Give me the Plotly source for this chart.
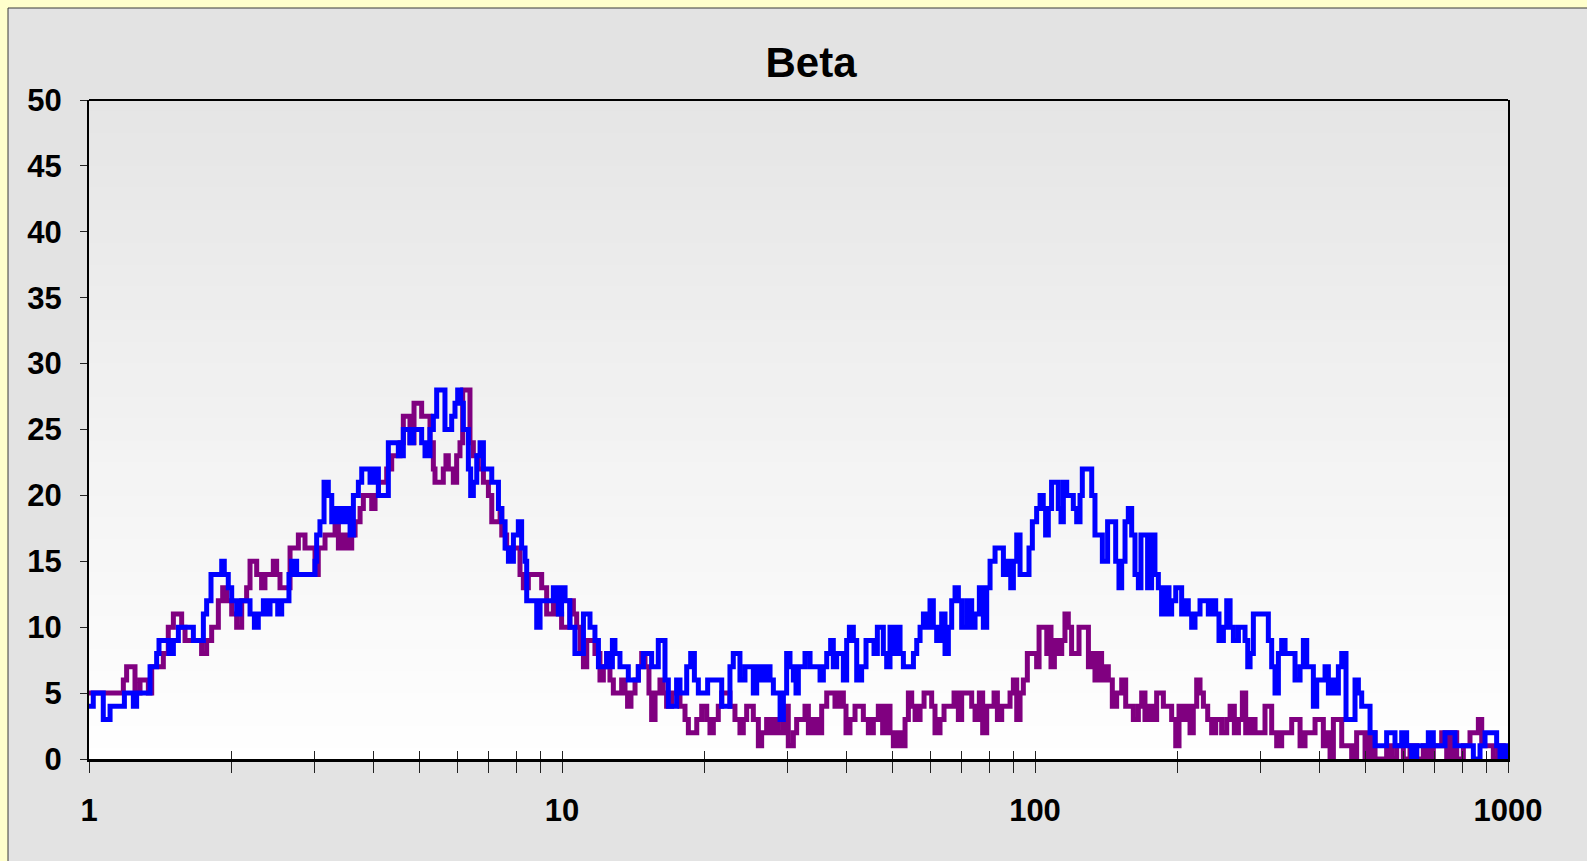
import plotly.graph_objects as go

# blue series
blue_x = [1.000, 1.021, 1.072, 1.108, 1.163, 1.188, 1.221, 1.241, 1.261, 1.303, 1.346, 1.390, 1.406, 1.447, 1.476, 1.508,
          1.545, 1.635, 1.662, 1.717, 1.745, 1.773, 1.811, 1.862, 1.908, 1.932, 1.970, 2.003, 2.052, 2.086, 2.154, 2.190,
          2.237, 2.280, 2.337, 2.366, 2.414, 2.473, 2.506, 2.555, 2.617, 2.647, 2.682, 2.748, 2.957, 3.005, 3.029, 3.078,
          3.140, 3.206, 3.260, 3.340, 3.422, 3.478, 3.564, 3.622, 3.711, 3.772, 3.864, 3.928, 4.005, 4.091, 4.226, 4.294,
          4.436, 4.508, 4.619, 4.771, 4.850, 4.970, 5.050, 5.133, 5.259, 5.346, 5.433, 5.567, 5.657, 5.750, 5.845, 5.940,
          6.018, 6.107, 6.186, 6.339, 6.411, 6.495, 6.603, 6.711, 6.821, 6.989, 7.104, 7.220, 7.339, 7.458, 7.580, 7.704,
          7.894, 8.085, 8.216, 8.353, 8.421, 8.629, 8.842, 8.987, 9.281, 9.433, 9.587,
          9.666, 9.822, 9.98, 10.15, 10.39, 10.65, 10.92, 11.10, 11.28, 11.46, 11.74, 11.94, 12.23, 12.43, 12.63, 12.78,
          12.94, 13.26, 13.59, 13.81, 14.27, 14.50, 14.86, 15.22, 15.47, 15.73, 15.98, 16.24, 16.51, 16.78, 17.19, 17.47,
          17.76, 18.05, 18.35, 18.71, 19.05, 19.42, 19.90, 20.32, 20.89, 21.40, 21.76, 22.29, 22.65, 23.02, 23.51, 23.78,
          24.37, 24.97, 25.38, 25.80, 26.43, 27.08, 27.53, 27.98, 28.44, 28.91, 29.38, 29.85, 30.34,
          30.84, 31.24, 31.60, 32.12, 32.64, 33.45, 34.27, 35.12, 35.69, 36.28, 36.98, 37.46, 38.08, 38.70, 39.34, 39.98,
          40.51, 41.30, 41.98, 43.00, 43.93, 44.79, 45.67, 46.42, 47.02, 47.79, 48.58, 49.37, 50.18, 51.00, 51.84, 52.69,
          53.99, 55.33, 56.23, 57.15, 58.09, 59.04, 59.98, 60.96, 61.96, 63.49, 64.53, 65.59, 66.66, 67.76, 68.86, 69.98,
          71.72, 73.48, 74.69, 76.27, 77.77, 79.05, 80.35, 82.33, 84.36, 85.74, 87.85, 88.86, 90.01, 91.49, 92.98,
          95.26, 97.12, 98.72, 100.8, 102.5, 104.1, 105.3, 106.7, 108.4, 110.2, 112.0, 113.5, 114.8, 116.7, 118.6, 120.5,
          122.5, 124.5, 125.9, 129.7, 131.8, 133.9, 137.2, 138.8, 140.6, 142.4, 145.7, 148.1, 150.5, 152.5, 155.0, 157.5,
          160.1, 162.7, 165.4, 167.5, 170.8, 173.0, 176.4, 179.3, 182.3, 185.2, 188.3, 192.0, 194.5, 198.4, 201.6, 204.2,
          207.6, 210.9, 214.4, 217.9, 223.3, 228.8, 232.5, 237.1, 241.0, 244.9, 250.2, 254.3, 258.5, 262.7, 269.2, 273.6,
          278.0, 281.7, 284.9, 289.5, 296.7,
          306.4, 311.4, 316.5, 321.7, 327.0, 332.3, 337.8, 348.9, 354.6, 363.4, 369.3, 375.4, 381.5, 387.7, 394.1, 403.8,
          410.4, 417.1, 423.9, 433.0, 437.9, 445.1, 454.5, 463.5, 474.9, 482.7, 490.6, 502.7, 510.9, 523.5, 536.4, 553.9,
          567.5, 576.9, 596.0, 610.6, 625.7, 641.1, 662.2, 678.5, 695.2, 712.4, 735.9, 754.1, 772.6, 791.6, 817.8, 844.8,
          872.7, 894.2, 923.7, 946.2, 962.0, 970.0, 977.5, 985.0, 992.0, 1000.0]
blue_y = [4, 5, 3, 4, 4, 5, 5, 4, 5, 5, 7, 8, 9, 9, 8, 9,
          10, 10, 9, 9, 11, 12, 14, 14, 15, 14, 13, 12, 11, 12, 12, 11,
          10, 11, 12, 11, 12, 12, 11, 12, 12, 14, 15, 14, 14, 15, 17, 18,
          21, 20, 18, 19, 18, 19, 17, 20, 21, 22, 22, 21, 22, 20, 20, 24,
          24, 23, 25, 24, 25, 25, 24, 23, 25, 26, 28, 28, 25, 25, 26, 27,
          28, 27, 25, 22, 20, 21, 23, 24, 22, 22, 21, 21, 19, 18, 16, 15,
          17, 18, 16, 15, 12, 12, 10, 12, 12, 12, 13,
          13, 11, 13, 12, 10, 8, 8, 11, 11, 10, 9, 7, 7, 8, 7, 9,
          8, 7, 7, 6, 6, 7, 8, 8, 7, 7, 9, 9, 6, 4, 4, 6,
          5, 5, 7, 8, 6, 5, 5, 6, 6, 6, 4, 4, 7, 8, 8, 6,
          7, 7, 5, 7, 6, 7, 6, 5, 5, 3, 5, 8, 7,
          6, 5, 7, 7, 8, 7, 7, 6, 7, 8, 9, 7, 8, 8, 6, 9,
          10, 9, 6, 7, 9, 9, 8, 10, 10, 8, 7, 10, 8, 10, 8, 7,
          7, 8, 9, 10, 11, 10, 12, 10, 9, 11, 8, 10, 12, 13, 12, 10,
          12, 10, 11, 13, 10, 13, 15, 16, 16, 14, 15, 13, 15, 17, 14,
          14, 16, 18, 19, 20, 19, 17, 19, 21, 21, 19, 18, 21, 20, 20, 19,
          18, 20, 22, 22, 20, 17, 17, 15, 15, 18, 18, 15, 13, 15, 18, 19,
          17, 14, 13, 17, 17, 13, 17, 14, 13, 11, 13, 11, 12, 13, 13, 11,
          12, 11, 10, 11, 12, 12, 11, 12, 11, 9, 10, 12, 10, 9, 10, 10,
          9, 7, 8, 11, 11,
          11, 9, 7, 5, 8, 9, 8, 8, 6, 7, 9, 7, 7, 4, 6, 6,
          7, 5, 6, 5, 7, 8, 3, 3, 6, 5, 4, 4, 2, 1, 1, 2,
          2, 1, 2, 1, 0, 1, 1, 2, 1, 1, 2, 2, 1, 1, 1, 0,
          1, 2, 2, 1, 0, 1, 0, 1, 0, 1]

# purple series
purple_x = [1.000, 1.153, 1.182, 1.201, 1.221, 1.251, 1.282, 1.303, 1.335, 1.357, 1.413, 1.436, 1.471, 1.508, 1.532, 1.570,
            1.596, 1.662, 1.730, 1.773, 1.817, 1.877, 1.917, 1.955, 2.003, 2.052, 2.103, 2.154, 2.190, 2.226, 2.262, 2.317,
            2.355, 2.414, 2.453, 2.493, 2.534, 2.596, 2.661, 2.704, 2.771, 2.816, 2.862, 2.957, 3.005, 3.053,
            3.155, 3.260, 3.313, 3.367, 3.450, 3.535, 3.593, 3.652, 3.742, 3.802, 3.864, 3.960, 4.025, 4.091, 4.158, 4.260,
            4.365, 4.436, 4.545, 4.619, 4.710, 4.771, 4.866, 4.970, 5.050, 5.174, 5.259, 5.346, 5.389, 5.522, 5.611, 5.684,
            5.750, 5.892, 5.988, 6.086, 6.166, 6.288, 6.389, 6.495, 6.655, 6.821, 6.989, 7.104, 7.220, 7.398, 7.458, 7.638,
            7.830, 8.019, 8.151, 8.285, 8.489, 8.987, 9.058, 9.281, 9.433, 9.587,
            9.666, 9.98, 10.15, 10.39, 10.57, 10.74, 10.92, 11.10, 11.28, 11.46, 11.74, 12.03, 12.23, 12.43, 12.63, 12.84,
            13.15, 13.37, 13.59, 13.76, 13.99, 14.27, 14.50, 14.74, 14.98, 15.27, 15.47, 15.73, 16.11, 16.37, 16.64, 17.05,
            17.47, 17.76, 18.20, 18.50, 18.95, 19.27, 19.74, 20.23, 20.55, 20.89, 21.40, 21.76, 22.29, 22.65, 23.21, 23.78,
            24.17, 24.57, 24.97, 25.38, 26.01, 26.43, 27.08, 27.75, 28.21, 28.67, 29.38, 30.09,
            30.84, 31.34, 32.12, 32.64, 33.18, 33.99, 34.83, 35.40, 36.28, 37.17, 37.77, 38.57, 39.34, 39.85, 40.63, 41.64,
            42.66, 43.36, 44.43, 45.52, 46.64, 47.63, 48.58, 49.37, 50.18, 51.42, 52.27, 53.12, 53.99, 54.87, 55.78, 57.15,
            58.27, 59.52, 60.47, 61.46, 62.98, 64.22, 66.12, 67.43, 68.86, 69.98, 71.72, 73.48, 74.69, 76.27, 77.51, 79.05,
            80.35, 81.93, 83.27, 85.04, 87.14, 88.56, 90.01, 91.49, 92.98, 94.48, 96.34,
            96.81, 99.2, 100.8, 102.0, 104.1, 105.9, 107.1, 108.1, 109.9, 112.0, 113.9, 115.7, 117.6, 119.5, 121.5, 123.9,
            127.1, 129.7, 131.8, 133.9, 136.1, 138.3, 140.6, 142.9, 145.7, 148.8, 152.5, 155.5, 158.8, 161.4, 165.4, 168.1,
            170.8, 175.0, 177.9, 180.8, 183.8, 186.8, 191.4, 194.5, 198.4, 201.6, 205.9, 209.9, 212.7, 216.1, 219.7, 223.3,
            227.0, 231.8, 236.3, 241.0, 248.1, 254.3, 258.5, 263.9, 269.2, 274.4, 278.9, 284.9, 291.9, 299.1,
            306.4, 311.4, 316.5, 324.3, 332.3, 340.5, 348.9, 357.5, 363.4, 372.3, 381.5, 390.9, 399.2, 407.0, 413.7, 420.5,
            427.4, 434.5, 445.1, 456.0, 467.2, 478.6, 490.6, 498.6, 510.9, 523.5, 540.7, 553.9, 567.5, 581.6, 600.8, 620.6,
            641.1, 662.2, 678.5, 695.2, 724.1, 742.0, 760.3, 779.0, 804.6, 831.1, 851.7, 865.7, 879.9, 901.6, 931.1, 954.2,
            977.5]
purple_y = [5, 5, 6, 7, 7, 5, 6, 6, 5, 7, 7, 8, 10, 11, 11, 10,
            9, 9, 8, 9, 10, 12, 13, 12, 11, 10, 12, 13, 15, 15, 14, 13,
            14, 14, 15, 14, 13, 13, 16, 16, 17, 17, 16, 16, 14, 16,
            17, 17, 18, 16, 17, 16, 17, 18, 19, 20, 20, 19, 20, 21, 21, 22,
            23, 23, 24, 26, 26, 24, 27, 27, 26, 26, 24, 22, 21, 21, 22, 23,
            22, 21, 23, 24, 28, 28, 24, 23, 22, 21, 20, 18, 18, 19, 17, 16,
            16, 16, 14, 13, 14, 14, 13, 11, 11, 12,
            11, 10, 10, 12, 11, 10, 8, 7, 9, 9, 8, 6, 7, 8, 6, 5,
            5, 6, 5, 4, 5, 6, 7, 8, 7, 5, 3, 5, 6, 5, 4, 5,
            5, 4, 3, 2, 2, 3, 4, 3, 2, 3, 4, 5, 5, 4, 3, 2,
            3, 4, 4, 3, 1, 2, 3, 2, 3, 2, 4, 1,
            2, 3, 3, 4, 2, 3, 2, 4, 5, 5, 4, 5, 4, 2, 3, 4,
            4, 3, 2, 3, 4, 2, 4, 2, 1, 2, 1, 3, 5, 4, 3, 4,
            5, 5, 4, 2, 3, 4, 4, 5, 3, 5, 5, 4, 3, 5, 2, 4,
            4, 5, 3, 4, 4, 5, 6, 3, 5, 6, 8,
            8, 8, 7, 10, 10, 8, 10, 7, 9, 8, 9, 11, 10, 8, 8, 10,
            10, 7, 8, 6, 8, 6, 7, 6, 4, 5, 6, 4, 4, 3, 4, 5,
            3, 4, 3, 5, 5, 4, 4, 3, 1, 4, 3, 4, 2, 4, 6, 5,
            4, 3, 2, 3, 2, 3, 4, 2, 3, 5, 2, 3, 2, 2,
            4, 4, 2, 1, 2, 2, 3, 3, 1, 2, 2, 3, 3, 1, 2, 0,
            3, 3, 1, 1, 0, 2, 2, 0, 2, 0, 0, 1, 0, 1, 0, 1,
            0, 1, 0, 1, 2, 0, 2, 0, 1, 2, 2, 3, 1, 1, 0, 1,
            0]

x_ticks = [1, 2, 3, 4, 5, 6, 7, 8, 9, 10, 20, 30, 40, 50, 60, 70, 80, 90,
           100, 200, 300, 400, 500, 600, 700, 800, 900, 1000]
x_labels = ["1", "", "", "", "", "", "", "", "", "10", "", "", "", "", "", "", "", "",
            "100", "", "", "", "", "", "", "", "", "1000"]
y_ticks = [0, 5, 10, 15, 20, 25, 30, 35, 40, 45, 50]

FONT = "Liberation Sans, Arial, sans-serif"
W, H = 1587, 861
L, R, T, B = 89, 79, 100, 102
pw, ph = W - L - R, H - T - B

fig = go.Figure()
fig.add_trace(go.Scatter(x=purple_x, y=purple_y, mode="lines", line=dict(color="#800080", width=5, shape="hv"),
                         hoverinfo="skip"))
fig.add_trace(go.Scatter(x=blue_x, y=blue_y, mode="lines", line=dict(color="#0000FF", width=5, shape="hv"),
                         xaxis="x2", hoverinfo="skip"))

# chart area (grey panel on the yellow page) and the plot-area gradient
shapes = [dict(type="rect", xref="paper", yref="paper",
               x0=(8 - L) / pw, x1=1.2, y0=-0.3, y1=(H - B - 8) / ph,
               fillcolor="#E3E3E3", line=dict(color="#3a3a3a", width=1), layer="below")]
n = 60
for i in range(n):
    f = (i + 0.5) / n
    c = int(round(255 - f * (255 - 229)))
    shapes.append(dict(type="rect", xref="paper", yref="paper", x0=0, x1=1, y0=i / n, y1=(i + 1) / n + 0.002,
                       fillcolor="rgb(%d,%d,%d)" % (c, c, c), line=dict(width=0), layer="below"))
shapes.append(dict(type="line", xref="paper", yref="paper", x0=0, x1=1, y0=1, y1=1,
                   line=dict(color="black", width=2)))

tickfont = dict(family=FONT, size=31, color="black", weight="bold")

fig.update_layout(
    width=W, height=H,
    margin=dict(l=L, r=R, t=T, b=B),
    paper_bgcolor="#FFFFCC",
    plot_bgcolor="rgba(0,0,0,0)",
    showlegend=False,
    shapes=shapes,
    title=dict(text="Beta", x=(811 - L) / pw, xref="paper", xanchor="center",
               y=1 - 62 / H, yref="container", yanchor="middle",
               font=dict(family=FONT, size=42, color="black", weight="bold")),
    xaxis=dict(type="log", range=[0, 3], tickvals=x_ticks, ticktext=x_labels,
               ticks="outside", ticklen=11, tickwidth=1, tickcolor="#222",
               showline=True, linewidth=3, linecolor="black",
               showgrid=False, zeroline=False, tickfont=tickfont, ticklabelstandoff=11),
    xaxis2=dict(type="log", range=[0, 3], overlaying="x", anchor="y", side="bottom",
                tickvals=x_ticks, ticks="inside", ticklen=8, tickwidth=1, tickcolor="#222",
                showticklabels=False, showline=False, showgrid=False, zeroline=False),
    yaxis=dict(range=[0, 50], tickvals=y_ticks, ticks="outside", ticklen=7, tickwidth=1,
               tickcolor="#222", showline=True, linewidth=2, linecolor="black", mirror=True,
               showgrid=False, zeroline=False, tickfont=tickfont, ticklabelstandoff=12),
)

# drop the default page margin so the figure sits at the window's corner
fig.write_html("out.html", config={"displayModeBar": False},
               post_script="document.body.style.margin='0';")
